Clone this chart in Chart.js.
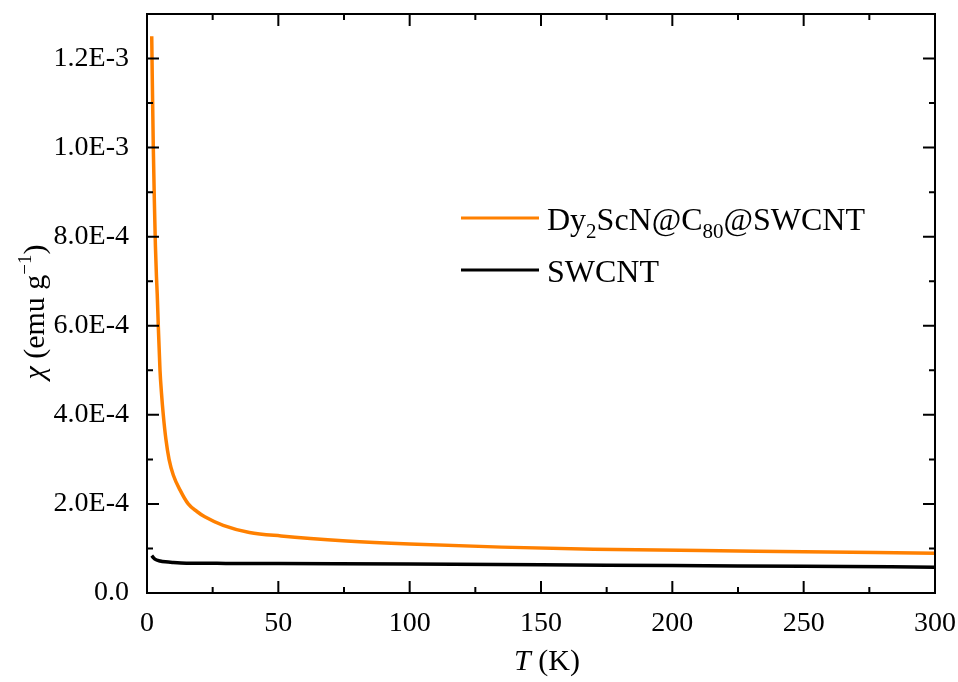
<!DOCTYPE html>
<html>
<head>
<meta charset="utf-8">
<script src="https://cdn.jsdelivr.net/npm/chart.js@4.4.1/dist/chart.umd.min.js"></script>
<style>
  html, body { margin: 0; padding: 0; background: #fff; }
  #wrap { width: 958px; height: 682px; }
</style>
</head>
<body>
<div id="wrap"><canvas id="chiChart" width="958" height="682"></canvas></div>
<script>
// Susceptibility vs temperature (chi in emu/g)
const dyTemps = [1.8, 2.0, 2.4, 2.8, 3.2, 3.6, 3.9, 4.3, 4.95, 5.5, 6.2, 7.2, 8.4, 10, 12.6, 15.7, 19, 22, 29, 39, 51, 76, 100, 135, 170, 232, 300];
const dyChi = [12.5e-4, 11.6e-4, 10.0e-4, 8.8e-4, 7.8e-4, 7.1e-4, 6.7e-4, 6.0e-4, 5.0e-4, 4.5e-4, 4.0e-4, 3.45e-4, 3.0e-4, 2.65e-4, 2.31e-4, 2.0e-4, 1.83e-4, 1.71e-4, 1.52e-4, 1.36e-4, 1.28e-4, 1.17e-4, 1.10e-4, 1.03e-4, 0.98e-4, 0.94e-4, 0.895e-4];

const cntTemps = [1.8, 2.5, 3, 5, 7, 10, 15, 30, 50, 100, 150, 200, 250, 300];
const cntChi = [0.84e-4, 0.79e-4, 0.76e-4, 0.72e-4, 0.70e-4, 0.685e-4, 0.67e-4, 0.665e-4, 0.66e-4, 0.65e-4, 0.635e-4, 0.615e-4, 0.60e-4, 0.58e-4];

const xTicks = [0, 50, 100, 150, 200, 250, 300];
const yTicks = [0, 2e-4, 4e-4, 6e-4, 8e-4, 10e-4, 12e-4];

const serif = '"Liberation Serif", "DejaVu Serif", serif';

function toPoints(xs, ys) {
    return xs.map((t, i) => ({ x: t, y: ys[i] }));
}

function yLabel(v) {
    if (Math.abs(v) < 1e-12) return '0.0';
    return v.toExponential(1).toUpperCase();
}

// frame, inward ticks on all four sides, legend and axis titles
const framePlugin = {
    id: 'frame',
    afterDraw(chart) {
        const ctx = chart.ctx;
        const { left, right, top, bottom } = chart.chartArea;
        const xs = chart.scales.x, ys = chart.scales.y;
        ctx.save();
        ctx.strokeStyle = '#000';
        ctx.lineWidth = 2;
        ctx.strokeRect(left, top, right - left, bottom - top);

        const major = 12, minor = 6;
        ctx.beginPath();
        for (let i = 0; i < xTicks.length; i++) {
            const px = xs.getPixelForValue(xTicks[i]);
            ctx.moveTo(px, bottom); ctx.lineTo(px, bottom - major);
            ctx.moveTo(px, top); ctx.lineTo(px, top + major);
            if (i < xTicks.length - 1) {
                const mx = xs.getPixelForValue((xTicks[i] + xTicks[i + 1]) / 2);
                ctx.moveTo(mx, bottom); ctx.lineTo(mx, bottom - minor);
                ctx.moveTo(mx, top); ctx.lineTo(mx, top + minor);
            }
        }
        for (let i = 0; i < yTicks.length; i++) {
            const py = ys.getPixelForValue(yTicks[i]);
            ctx.moveTo(left, py); ctx.lineTo(left + major, py);
            ctx.moveTo(right, py); ctx.lineTo(right - major, py);
            if (i < yTicks.length - 1) {
                const my = ys.getPixelForValue((yTicks[i] + yTicks[i + 1]) / 2);
                ctx.moveTo(left, my); ctx.lineTo(left + minor, my);
                ctx.moveTo(right, my); ctx.lineTo(right - minor, my);
            }
        }
        ctx.stroke();

        // legend
        const lx = left + 314, ly = top + 204;
        const sets = chart.data.datasets;
        ctx.fillStyle = '#000';
        ctx.textBaseline = 'alphabetic';
        ctx.textAlign = 'left';
        sets.forEach((ds, i) => {
            const yy = ly + i * 52;
            ctx.strokeStyle = ds.borderColor;
            ctx.lineWidth = 3;
            ctx.beginPath();
            ctx.moveTo(lx, yy);
            ctx.lineTo(lx + 78, yy);
            ctx.stroke();
            let tx = lx + 86;
            ds.legendParts.forEach(part => {
                const sub = part.startsWith('_');
                const txt = sub ? part.slice(1) : part;
                ctx.font = (sub ? '21px ' : '32px ') + serif;
                ctx.fillText(txt, tx, yy + 12 + (sub ? 8 : 0));
                tx += ctx.measureText(txt).width;
            });
        });

        // x axis title: italic T (K)
        ctx.fillStyle = '#000';
        const cx = (left + right) / 2;
        ctx.font = 'italic 30px ' + serif;
        const wT = ctx.measureText('T').width;
        ctx.font = '30px ' + serif;
        const wK = ctx.measureText(' (K)').width;
        let sx = cx - (wT + wK) / 2 + 6;
        ctx.font = 'italic 30px ' + serif;
        ctx.fillText('T', sx, 670);
        ctx.font = '30px ' + serif;
        ctx.fillText(' (K)', sx + wT, 670);

        // y axis title: chi (emu g^-1), rotated
        ctx.translate(44, 312);
        ctx.rotate(-Math.PI / 2);
        const parts = [
            { t: '\u03C7', f: 'italic 30px ', dy: 0 },
            { t: ' (emu g', f: '30px ', dy: 0 },
            { t: '\u22121', f: '19px ', dy: -13 },
            { t: ')', f: '30px ', dy: 0 }
        ];
        let total = 0;
        parts.forEach(p => { ctx.font = p.f + serif; total += ctx.measureText(p.t).width; });
        let px0 = -total / 2;
        parts.forEach(p => {
            ctx.font = p.f + serif;
            ctx.fillText(p.t, px0, p.dy);
            px0 += ctx.measureText(p.t).width;
        });
        ctx.restore();
    }
};

const chiChart = new Chart(
    document.getElementById('chiChart').getContext('2d'),
    {
        type: 'line',
        data: {
            datasets: [
                {
                    label: 'Dy2ScN@C80@SWCNT',
                    legendParts: ['Dy', '_2', 'ScN@C', '_80', '@SWCNT'],
                    data: toPoints(dyTemps, dyChi),
                    borderColor: '#FF8000',
                    borderWidth: 3.5,
                    pointRadius: 0,
                    cubicInterpolationMode: 'monotone',
                    fill: false
                },
                {
                    label: 'SWCNT',
                    legendParts: ['SWCNT'],
                    data: toPoints(cntTemps, cntChi),
                    borderColor: '#000000',
                    borderWidth: 3.5,
                    pointRadius: 0,
                    cubicInterpolationMode: 'monotone',
                    fill: false
                }
            ]
        },
        options: {
            responsive: false,
            animation: false,
            layout: { padding: { left: 0, top: 14, right: 23, bottom: 0 } },
            plugins: {
                legend: { display: false },
                tooltip: { enabled: false }
            },
            scales: {
                x: {
                    type: 'linear',
                    min: 0,
                    max: 300,
                    grid: { display: false },
                    border: { display: false },
                    afterBuildTicks: s => { s.ticks = xTicks.map(v => ({ value: v })); },
                    afterFit: s => { s.height = 89; s.paddingLeft = 0; s.paddingRight = 0; },
                    ticks: {
                        color: '#000',
                        padding: 6,
                        maxRotation: 0,
                        font: { family: serif, size: 28 }
                    }
                },
                y: {
                    type: 'linear',
                    min: 0,
                    max: 1.3e-3,
                    grid: { display: false },
                    border: { display: false },
                    afterBuildTicks: s => { s.ticks = yTicks.map(v => ({ value: v })); },
                    afterFit: s => { s.width = 147; s.paddingTop = 0; s.paddingBottom = 0; },
                    ticks: {
                        color: '#000',
                        padding: 10,
                        font: { family: serif, size: 28 },
                        callback: v => yLabel(v)
                    }
                }
            }
        },
        plugins: [framePlugin]
    }
);
</script>
</body>
</html>
